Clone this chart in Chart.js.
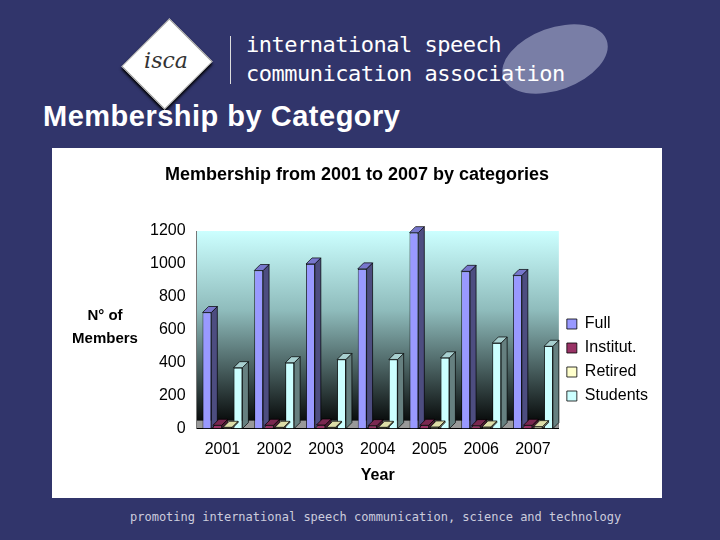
<!DOCTYPE html>
<html><head><meta charset="utf-8">
<script src="https://cdn.jsdelivr.net/npm/chart.js@4/dist/chart.umd.min.js"></script>
<style>
body{margin:0;width:720px;height:540px;background:#31356b;position:relative;overflow:hidden;font-family:"Liberation Sans",Arial,sans-serif}
#diam{position:absolute;left:133px;top:30px;width:66px;height:66px;background:#fff;transform:rotate(45deg) scaleX(0.9);border:1px solid #999;box-shadow:2px 2px 3px #000}
#diamtxt{position:absolute;left:121px;top:48px;width:90px;text-align:center;font:italic 22px "DejaVu Serif",serif;color:#333}
#bar{position:absolute;left:230px;top:36px;width:1px;height:48px;background:#ddd}
#org{position:absolute;left:246px;top:30px;color:#fff;font:22px/29px "DejaVu Sans Mono",monospace;letter-spacing:-0.5px}
#ell{position:absolute;left:500px;top:28px;width:110px;height:62px;border-radius:50%;background:rgba(170,175,205,0.6);transform:rotate(-20deg)}
#title{position:absolute;left:43px;top:100px;color:#fff;font:bold 29px "Liberation Sans",Arial,sans-serif;letter-spacing:0.5px}
#box{position:absolute;left:52px;top:148px;width:610px;height:350px;background:#fff}
#foot{position:absolute;left:130px;top:510px;color:#ccd;font:12px "DejaVu Sans Mono",monospace}
</style></head><body>
<div id="ell"></div>
<div id="diam"></div><div id="diamtxt">isca</div>
<div id="bar"></div>
<div id="org">international speech<br>communication association</div>
<div id="title">Membership by Category</div>
<div id="box"><canvas id="c" width="610" height="350"></canvas></div>
<div id="foot">promoting international speech communication, science and technology</div>
<script>
const years=["2001","2002","2003","2004","2005","2006","2007"];
const full=[705,960,1000,970,1190,955,930];
const institut=[20,20,22,18,20,18,20];
const retired=[8,8,8,8,10,10,12];
const students=[370,400,420,420,430,520,500];
const colors=["#9999ff","#993366","#ffffcc","#ccffff"];
const names=["Full","Institut.","Retired","Students"];
const series=[full,institut,retired,students];
const bg={id:'bg',beforeDraw(ch){const a=ch.chartArea,c=ch.ctx;const g=c.createLinearGradient(0,a.top,0,a.bottom);g.addColorStop(0,'#ccffff');g.addColorStop(0.4,'#8fbcbc');g.addColorStop(1,'#000');c.save();c.fillStyle=g;c.fillRect(a.left,a.top,a.right-a.left,a.bottom-a.top);c.fillStyle='#999';c.fillRect(a.left,a.bottom-8,a.right-a.left,8);c.restore();
c.save();c.fillStyle='#000';c.textAlign='center';c.font='bold 18px "Liberation Sans"';c.fillText('Membership from 2001 to 2007 by categories',305,32);
c.font='bold 15px "Liberation Sans"';c.fillText('N° of',53,172);c.fillText('Members',53,195);c.restore();}};
const depth={id:'depth',afterDatasetsDraw(ch){const c=ch.ctx,d=6;ch.data.datasets.forEach((ds,i)=>{ch.getDatasetMeta(i).data.forEach(b=>{const l=b.x-b.width/2,r=b.x+b.width/2,t=b.y,bo=b.base;c.save();c.strokeStyle='#000';c.lineWidth=0.7;c.fillStyle=ds.sideColor;c.beginPath();c.moveTo(r,t);c.lineTo(r+d,t-d);c.lineTo(r+d,bo-d);c.lineTo(r,bo);c.closePath();c.fill();c.stroke();c.fillStyle=ds.topColor;c.beginPath();c.moveTo(l,t);c.lineTo(l+d,t-d);c.lineTo(r+d,t-d);c.lineTo(r,t);c.closePath();c.fill();c.stroke();c.restore();});});}};
const sideCols=["#4d4d80","#4d1a33","#80806a","#668080"],topCols=["#7777cc","#7a2850","#dddda8","#a8d0d0"];
new Chart(document.getElementById('c'),{type:'bar',
data:{labels:years,datasets:series.map((s,i)=>({label:names[i],data:s,backgroundColor:colors[i],borderColor:'#000',borderWidth:0.8,sideColor:sideCols[i],topColor:topCols[i],categoryPercentage:0.8,barPercentage:0.85}))},
options:{responsive:false,animation:false,layout:{padding:{left:95,right:4,top:83,bottom:9}},
plugins:{title:{display:false},
legend:{position:'right',labels:{boxWidth:10,boxHeight:10,color:'#000',font:{size:16,family:'Liberation Sans'},padding:8}}},
scales:{x:{grid:{display:false},border:{color:'#000'},ticks:{color:'#000',font:{size:16,family:'Liberation Sans'}},title:{display:true,text:'Year',color:'#000',font:{size:16,weight:'bold',family:'Liberation Sans'}}},
y:{min:0,max:1200,ticks:{stepSize:200,color:'#000',font:{size:16,family:'Liberation Sans'},callback:v=>String(v)},grid:{display:false},border:{color:'#777'}}}},
plugins:[bg,depth]});
</script></body></html>
